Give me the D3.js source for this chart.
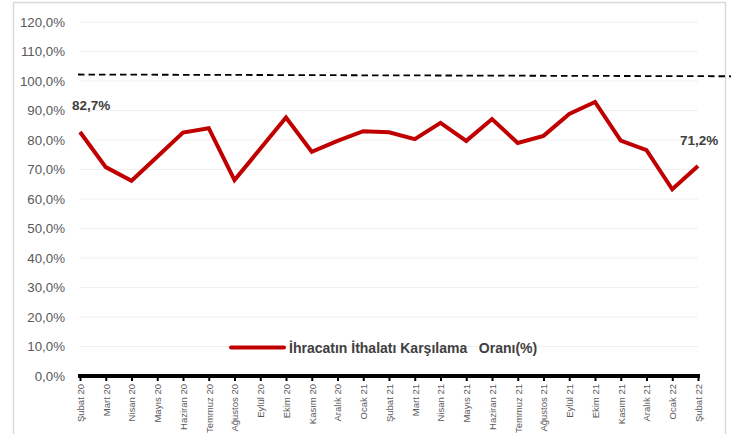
<!DOCTYPE html>
<html><head><meta charset="utf-8">
<script src="https://cdn.jsdelivr.net/npm/d3@7"></script>
<style>body{margin:0;background:#fff}svg{display:block}</style>
</head><body>
<svg id="c" width="731" height="434"></svg>
<script>
const categories = ["Şubat 20","Mart 20","Nisan 20","Mayıs 20","Haziran 20","Temmuz 20","Ağustos 20","Eylül 20","Ekim 20","Kasım 20","Aralık 20","Ocak 21","Şubat 21","Mart 21","Nisan 21","Mayıs 21","Haziran 21","Temmuz 21","Ağustos 21","Eylül 21","Ekim 21","Kasım 21","Aralık 21","Ocak 22","Şubat 22"];
const values = [82.7,70.8,66.2,74.3,82.5,84.0,66.4,77.0,87.6,76.0,79.7,83.0,82.6,80.3,85.8,79.7,87.1,79.0,81.4,88.8,92.9,79.8,76.6,63.3,71.2];
const refLine = [102.2,101.6];
const yTicks = [0,10,20,30,40,50,60,70,80,90,100,110,120];
const legendLabel = "İhracatın İthalatı Karşılama   Oranı(%)";
const labelFirst = "82,7%", labelLast = "71,2%";

const svg = d3.select("#c");
const x = d3.scalePoint().domain(categories).range([80, 698]);
const y = d3.scaleLinear().domain([0,120]).range([376, 22]);
const fmt = v => d3.format(".1f")(v).replace(".", ",") + "%";

// border
svg.append("rect").attr("x",13.5).attr("y",2.5).attr("width",712).attr("height",440)
  .attr("fill","none").attr("stroke","#d9d9d9").attr("stroke-width",1.5);

// gridlines
svg.append("g").selectAll("line").data(yTicks.filter(d=>d>0)).join("line")
  .attr("x1",80).attr("x2",698).attr("y1",d=>y(d)).attr("y2",d=>y(d))
  .attr("stroke","#f0f0f0").attr("stroke-width",1);

// y axis labels
const ya = svg.append("g").attr("transform","translate(65,0)")
  .call(d3.axisLeft(y).tickValues(yTicks).tickFormat(fmt).tickSize(0).tickPadding(0));
ya.select(".domain").remove();
ya.selectAll("text").attr("font-family","Liberation Sans, Arial, sans-serif").attr("font-size","13.3px").attr("fill","#595959");

// dashed reference line
svg.append("line").attr("x1",78).attr("x2",731).attr("y1",y(refLine[0])).attr("y2",y(refLine[1]))
  .attr("stroke","#000").attr("stroke-width",1.8).attr("stroke-dasharray","6.5,4");

// x axis
const xa = svg.append("g").attr("transform","translate(0,376)")
  .call(d3.axisBottom(x).tickSize(5).tickPadding(3));
xa.select(".domain").attr("d","M78,0H700").attr("stroke","#000").attr("stroke-width",4);
xa.selectAll(".tick line").attr("stroke","#000").attr("stroke-width",2);
xa.selectAll("text").attr("font-family","Liberation Sans, Arial, sans-serif").attr("font-size","9.5px").attr("fill","#595959")
  .attr("transform","rotate(-90)").attr("text-anchor","end").attr("dy","0.35em").attr("x",-8).attr("y",0);

// data line
svg.append("path").datum(values)
  .attr("d", d3.line().x((d,i)=>x(categories[i])).y(d=>y(d)))
  .attr("fill","none").attr("stroke","#c00000").attr("stroke-width",4).attr("stroke-linejoin","miter");

// labels
svg.append("text").attr("x",x(categories[0])-8).attr("y",110).text(labelFirst)
  .attr("font-family","Liberation Sans, Arial, sans-serif").attr("font-weight","bold").attr("font-size","13.5px").attr("fill","#404040");
svg.append("text").attr("x",x(categories[categories.length-1])-18).attr("y",145).text(labelLast)
  .attr("font-family","Liberation Sans, Arial, sans-serif").attr("font-weight","bold").attr("font-size","13.5px").attr("fill","#404040");

// legend
const lg = svg.append("g");
lg.append("line").attr("x1",231).attr("x2",284).attr("y1",347.5).attr("y2",347.5)
  .attr("stroke","#c00000").attr("stroke-width",4).attr("stroke-linecap","round");
lg.append("text").attr("x",289).attr("y",352.5).text(legendLabel).attr("xml:space","preserve").style("white-space","pre")
  .attr("font-family","Liberation Sans, Arial, sans-serif").attr("font-weight","bold").attr("font-size","14px").attr("fill","#404040");
</script>
</body></html>
